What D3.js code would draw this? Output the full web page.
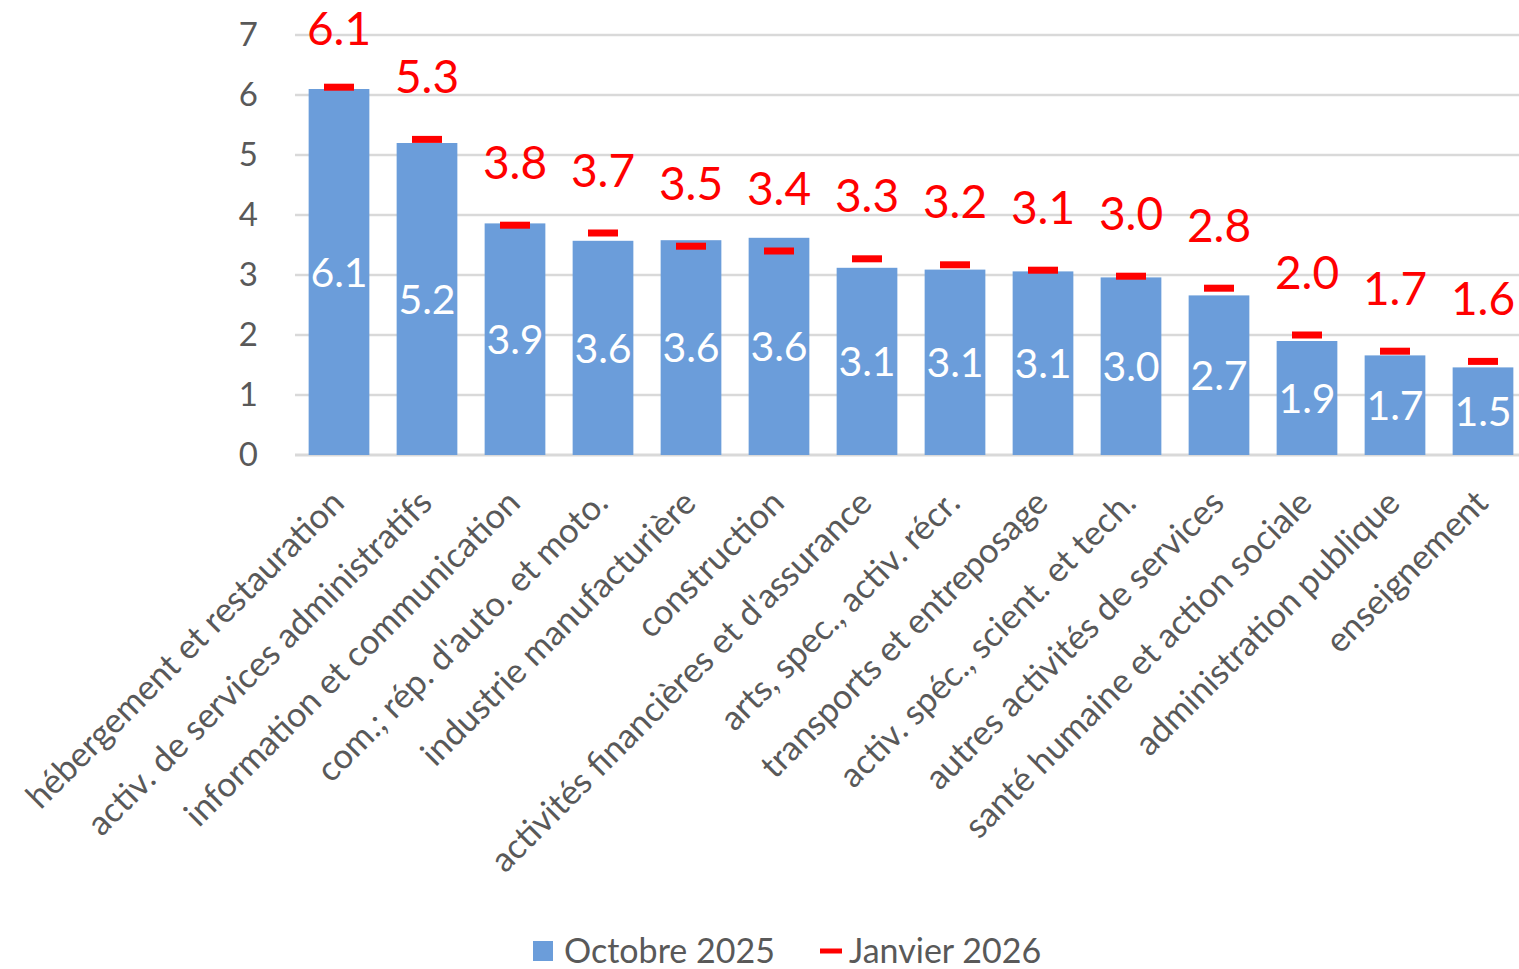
<!DOCTYPE html>
<html>
<head>
<meta charset="utf-8">
<script src="https://cdn.jsdelivr.net/npm/d3@7"></script>
<style>
  body { margin: 0; background: #fff; }
  text { font-family: Lato, "Open Sans", sans-serif; }
</style>
</head>
<body>
<script>
// secteurs
const categories = [
  "hébergement et restauration",
  "activ. de services administratifs",
  "information et communication",
  "com.; rép. d'auto. et moto.",
  "industrie manufacturière",
  "construction",
  "activités financières et d'assurance",
  "arts, spec., activ. récr.",
  "transports et entreposage",
  "activ. spéc., scient. et tech.",
  "autres activités de services",
  "santé humaine et action sociale",
  "administration publique",
  "enseignement"
];
const octobre2025 = [6.1, 5.2, 3.86, 3.57, 3.58, 3.62, 3.12, 3.09, 3.06, 2.96, 2.66, 1.9, 1.66, 1.46];
const janvier2026 = [6.13, 5.26, 3.83, 3.7, 3.48, 3.4, 3.27, 3.17, 3.08, 2.98, 2.78, 2.0, 1.73, 1.56];
const yTicks = [0, 1, 2, 3, 4, 5, 6, 7];
const seriesNames = ["Octobre 2025", "Janvier 2026"];

const W = 1519, H = 969;
const margin = {top: 35, right: -8, bottom: 514, left: 295};
const width = W - margin.left - margin.right,
      height = H - margin.top - margin.bottom;

const blue = "#6b9dda", red = "#ff0000", grey = "#595959";
const fmt = d3.format(".1f");

const svg = d3.select("body").append("svg")
    .attr("width", W)
    .attr("height", H);

const g = svg.append("g")
    .attr("transform", "translate(" + margin.left + "," + margin.top + ")");

let x = d3.scaleBand()
    .domain(categories)
    .range([0, width])
    .paddingInner(0.31)
    .paddingOuter(0.155);

let y = d3.scaleLinear()
    .domain([0, 7])
    .range([height, 0]);

// grid
g.selectAll(".grid")
    .data(yTicks)
    .join("line")
    .attr("x1", 0)
    .attr("x2", W - margin.left)
    .attr("y1", d => y(d))
    .attr("y2", d => y(d))
    .attr("stroke", "#d9d9d9")
    .attr("stroke-width", d => d == 0 ? 3 : 2.5);

// y axis labels
let yAxis = g.append("g")
    .call(d3.axisLeft(y).tickValues(yTicks).tickFormat(d3.format("d")).tickSize(0).tickPadding(37));
yAxis.select(".domain").remove();
yAxis.selectAll("text")
    .attr("fill", grey)
    .style("font-size", "33px")
    .style("font-family", "Lato, sans-serif");

// bars
g.selectAll(".bar")
    .data(categories)
    .join("rect")
    .attr("x", d => x(d))
    .attr("y", (d, i) => y(octobre2025[i]))
    .attr("width", x.bandwidth())
    .attr("height", (d, i) => y(0) - y(octobre2025[i]))
    .attr("fill", blue);

// values in bars
g.selectAll(".vin")
    .data(categories)
    .join("text")
    .attr("x", d => x(d) + x.bandwidth() / 2)
    .attr("y", (d, i) => (y(octobre2025[i]) + y(0)) / 2)
    .attr("dy", "0.36em")
    .attr("text-anchor", "middle")
    .attr("fill", "#fff")
    .style("font-size", "41px")
    .text((d, i) => fmt(octobre2025[i]));

// janvier markers
g.selectAll(".mark")
    .data(categories)
    .join("rect")
    .attr("x", d => x(d) + x.bandwidth() / 2 - 15)
    .attr("y", (d, i) => y(janvier2026[i]) - 3.5)
    .attr("width", 30)
    .attr("height", 7)
    .attr("fill", red);

// labels above markers, pushed down if they'd leave the top
g.selectAll(".vout")
    .data(categories)
    .join("text")
    .attr("x", d => x(d) + x.bandwidth() / 2)
    .attr("y", (d, i) => Math.max(y(janvier2026[i]) - 63, -7))
    .attr("dy", "0.36em")
    .attr("text-anchor", "middle")
    .attr("fill", red)
    .style("font-size", "46px")
    .text((d, i) => fmt(janvier2026[i]));

// category labels
g.selectAll(".cat")
    .data(categories)
    .join("text")
    .attr("transform", d => "translate(" + (x(d) + x.bandwidth() / 2 + 7) + "," + (height + 50) + ") rotate(-45)")
    .attr("text-anchor", "end")
    .attr("fill", grey)
    .style("font-size", "34.5px")
    .text(d => d);

// legend
let leg = svg.append("g").attr("transform", "translate(0,951)");
leg.append("rect")
    .attr("x", 533).attr("y", -10)
    .attr("width", 20).attr("height", 20)
    .attr("fill", blue);
leg.append("text")
    .attr("x", 564).attr("dy", "0.36em")
    .attr("fill", grey)
    .style("font-size", "34px")
    .text(seriesNames[0]);
leg.append("rect")
    .attr("x", 820).attr("y", -2.5)
    .attr("width", 22).attr("height", 5)
    .attr("fill", red);
leg.append("text")
    .attr("x", 849).attr("dy", "0.36em")
    .attr("fill", grey)
    .style("font-size", "34px")
    .text(seriesNames[1]);
</script>
</body>
</html>
